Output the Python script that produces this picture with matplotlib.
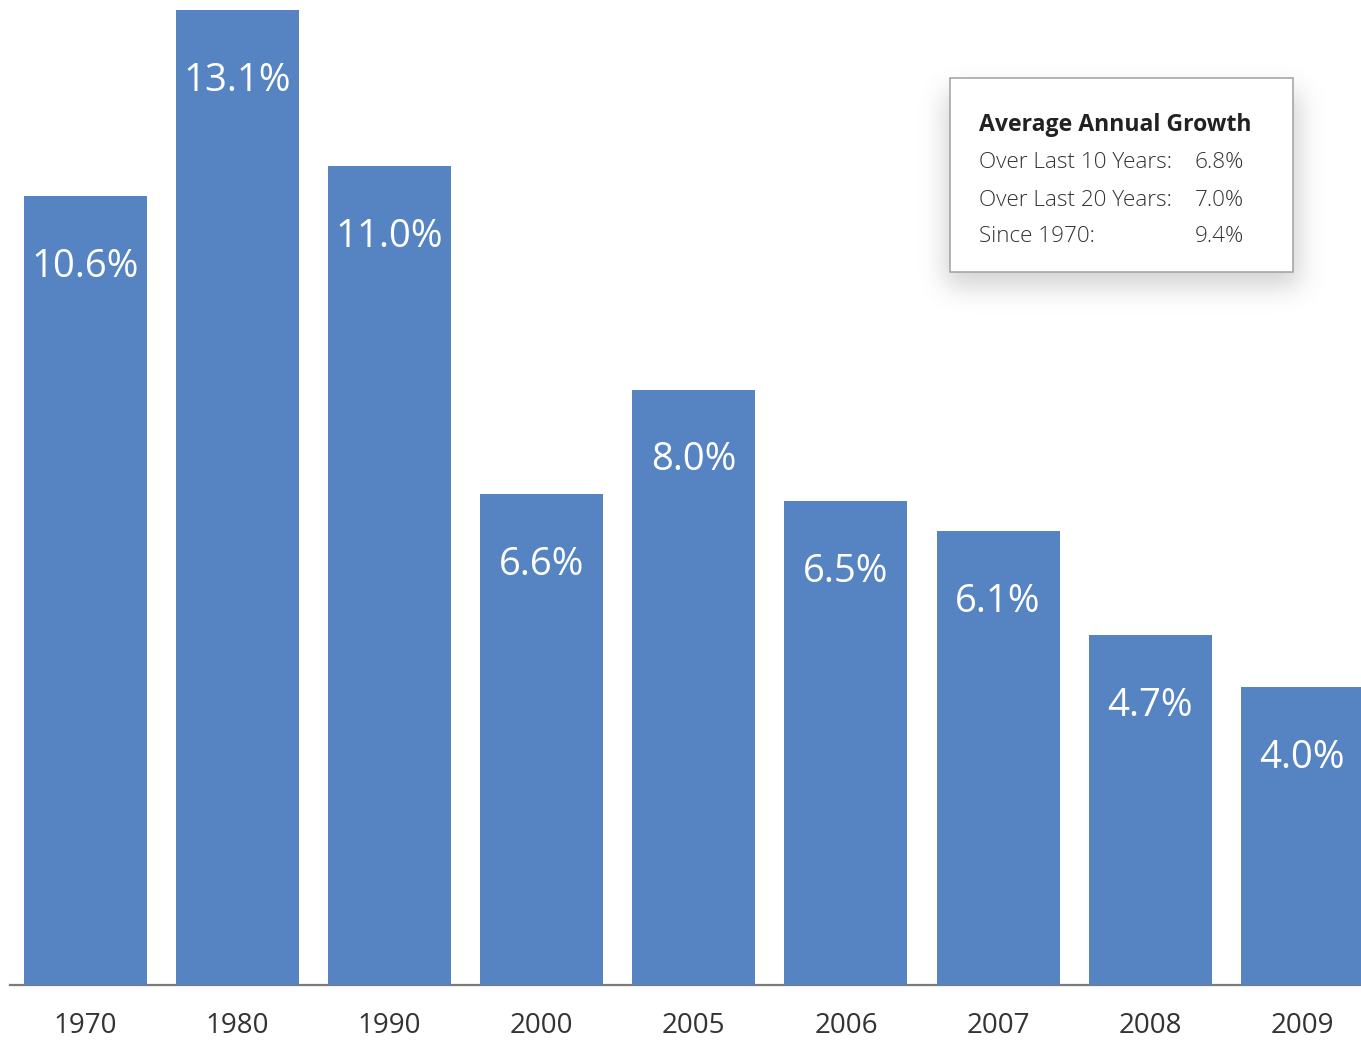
import numpy as np
import matplotlib
matplotlib.use("Agg")
import matplotlib.pyplot as plt
from matplotlib.patches import Rectangle

# Data
years = ["1970", "1980", "1990", "2000", "2005", "2006", "2007", "2008", "2009"]
growth = [10.6, 13.1, 11.0, 6.6, 8.0, 6.5, 6.1, 4.7, 4.0]
value_labels = ["10.6%", "13.1%", "11.0%", "6.6%", "8.0%", "6.5%", "6.1%", "4.7%", "4.0%"]

summary_title = "Average Annual Growth"
summary_rows = ["Over Last 10 Years:", "Over Last 20 Years:", "Since 1970:"]
summary_values = ["6.8%", "7.0%", "9.4%"]

BAR_COLOR = "#5683C2"
FONT = ["Open Sans", "DejaVu Sans"]

W, H = 1361, 1040
fig = plt.figure(figsize=(W / 100, H / 100), dpi=100)
fig.patch.set_facecolor("white")

base_px = 985
ax = fig.add_axes([10 / W, (H - base_px) / H, (W - 10) / W, base_px / H])
x = np.arange(len(years))
ax.bar(x, growth, width=0.809, color=BAR_COLOR, zorder=2)
ax.set_xlim(-0.496, 8.386)
ax.set_ylim(0, 13.234)
for s in ["top", "right", "left"]:
    ax.spines[s].set_visible(False)
ax.spines["bottom"].set_color("#7a7a7a")
ax.spines["bottom"].set_linewidth(1.6)
ax.spines["bottom"].set_zorder(1)
ax.set_yticks([])
ax.set_xticks(x)
ax.set_xticklabels(years, fontsize=20, color="#333333", family=FONT)
ax.tick_params(axis="x", length=0, pad=19.5)

for xi, v, lab in zip(x, growth, value_labels):
    ax.annotate(lab, xy=(xi, v), xytext=(0, -51), textcoords="offset points",
                ha="center", va="center", color="white", fontsize=27.5,
                family=FONT, zorder=3, annotation_clip=False)

# Summary box with soft drop shadow
bx0, by0, bx1, by1 = 950, 78, 1293, 272
shadow = np.zeros((H, W))
off_x, off_y = 6, 14
shadow[by0 + off_y:by1 + off_y, bx0 - 4:bx1 + off_x] = 1.0
k = np.exp(-0.5 * (np.arange(-40, 41) / 13.0) ** 2)
k /= k.sum()
shadow = np.apply_along_axis(lambda r: np.convolve(r, k, mode="same"), 1, shadow)
shadow = np.apply_along_axis(lambda c: np.convolve(c, k, mode="same"), 0, shadow)
rgba = np.zeros((H, W, 4))
rgba[..., :3] = 0.4
rgba[..., 3] = shadow * 0.3
fig.figimage(rgba[::-1], xo=0, yo=0, origin="lower", zorder=5)

fig.patches.append(Rectangle((bx0 / W, (H - by1) / H), (bx1 - bx0) / W, (by1 - by0) / H,
                             transform=fig.transFigure, facecolor="white",
                             edgecolor="#a0a0a0", linewidth=1.1, zorder=6))

fig.text(979 / W, (H - 125) / H, summary_title, fontsize=16.6, fontweight="bold",
         color="#222222", family=FONT, va="center", ha="left", zorder=7)
for i, (r, v) in enumerate(zip(summary_rows, summary_values)):
    yy = (H - (163 + 37 * i)) / H
    fig.text(979 / W, yy, r, fontsize=16.2, fontweight="light", color="#333333",
             family=FONT, va="center", ha="left", zorder=7)
    fig.text(1195 / W, yy, v, fontsize=16.2, fontweight="light", color="#333333",
             family=FONT, va="center", ha="left", zorder=7)

fig.savefig("out.png", dpi=100, facecolor="white")
